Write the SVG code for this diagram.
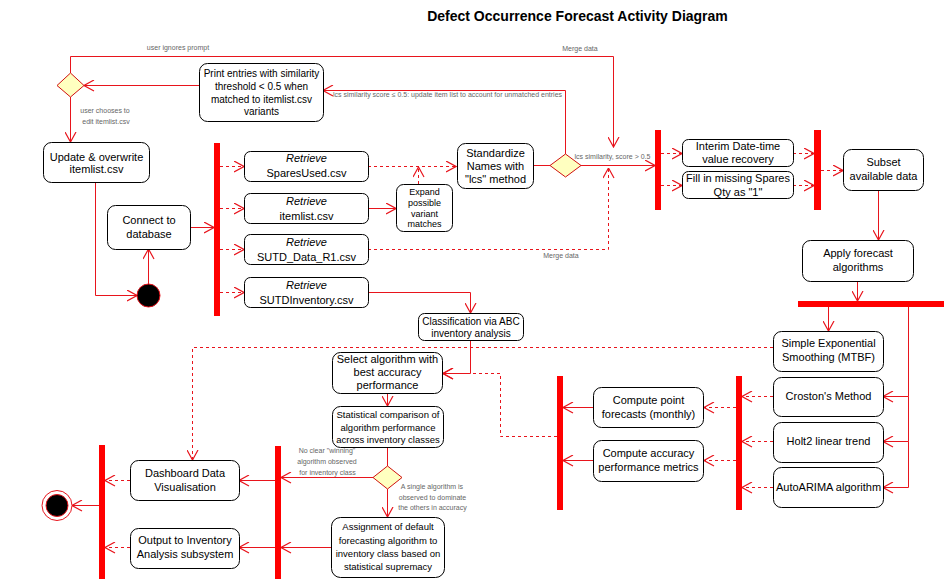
<svg xmlns="http://www.w3.org/2000/svg" width="948" height="583" viewBox="0 0 948 583">
<style>
.n{fill:#fff;stroke:#000;stroke-width:1}
.t{font-family:"Liberation Sans",Arial,sans-serif;font-size:11px;text-anchor:middle;fill:#000}
.s10{font-size:10px}
.s95{font-size:9.5px}
.s9{font-size:9px}
.it{font-style:italic}
.lb{font-family:"Liberation Sans",Arial,sans-serif;font-size:7px;text-anchor:middle;fill:#666}
.e{fill:none;stroke:#e8141c;stroke-width:1;marker-end:url(#a)}
.p{fill:none;stroke:#e8141c;stroke-width:1}
.d{stroke-dasharray:3 3}
.bar{fill:#f00}
.dia{fill:#ffffc0;stroke:#d01010;stroke-width:1}
</style>
<defs>
<marker id="a" viewBox="0 0 11 12" refX="10.5" refY="6" markerWidth="11" markerHeight="12" markerUnits="userSpaceOnUse" orient="auto">
<path d="M0.5,0.5 L10.5,6 L0.5,11.5" fill="none" stroke="#e8141c" stroke-width="1.2" stroke-dasharray="none"/>
</marker>
</defs>
<rect width="948" height="583" fill="#fff"/>
<text x="577.5" y="21" style="font-family:'Liberation Sans',Arial,sans-serif;font-size:14px;font-weight:bold;text-anchor:middle">Defect Occurrence Forecast Activity Diagram</text>

<g id="connectors">
<path class="e" d="M70.5,73 V56.5 H613.5 V147"/>
<text class="lb" x="178" y="49.5">user ignores prompt</text>
<text class="lb" x="580" y="51">Merge data</text>
<path class="e" d="M199,85.5 H84"/>
<path class="e" d="M70.5,97 V142"/>
<text class="lb" x="105" y="112.5">user chooses to</text>
<text class="lb" x="106" y="123.5">edit itemlist.csv</text>
<path class="e" d="M95.5,182 V295.5 H137"/>
<path class="e" d="M148.5,284 V249"/>
<path class="e" d="M190,227.5 H214"/>
<path class="e d" d="M220,166.5 H244"/>
<path class="e d" d="M220,208.5 H244"/>
<path class="e d" d="M220,249.5 H244"/>
<path class="e d" d="M220,292.5 H244"/>
<path class="e d" d="M368,166.5 H456"/>
<path class="e" d="M369,208.5 H396"/>
<path class="e d" d="M418.5,184 V167"/>
<path class="p" d="M533,165.5 H550"/>
<path class="e" d="M565.5,154 V90.5 H323"/>
<text class="lb" x="447.5" y="96.5">lcs similarity score ≤ 0.5: update item list to account for unmatched entries</text>
<path class="e" d="M581,165.5 H655"/>
<text class="lb" x="612.5" y="158.5">lcs similarity, score &gt; 0.5</text>
<path class="e d" d="M368,249.5 H608.5 V168"/>
<text class="lb" x="561" y="257.5">Merge data</text>
<path class="e d" d="M661,153.5 H682"/>
<path class="e d" d="M661,185.5 H682"/>
<path class="e d" d="M793,153.5 H814"/>
<path class="e d" d="M793,185.5 H814"/>
<path class="e d" d="M821,170.5 H843"/>
<path class="e" d="M878.5,190 V240"/>
<path class="e" d="M857.5,281 V301"/>
<path class="e" d="M828.5,307 V331"/>
<path class="e" d="M908.5,307 V396.5 H883"/>
<path class="e" d="M908.5,396.5 V441.5 H883"/>
<path class="e" d="M908.5,441.5 V487.5 H883"/>
<path class="e d" d="M773,396.5 H742"/>
<path class="e d" d="M773,441.5 H742"/>
<path class="e d" d="M773,487.5 H742"/>
<path class="e d" d="M736,407.5 H704"/>
<path class="e d" d="M736,460.5 H704"/>
<path class="e" d="M593,407.5 H563"/>
<path class="e" d="M593,460.5 H563"/>
<path class="e d" d="M557,436.5 H500.5 V373.5 H443"/>
<path class="e" d="M368,292.5 H470.5 V313"/>
<path class="e" d="M470.5,340 V373.5 H443"/>
<path class="e d" d="M773,347.5 H192.5 V460"/>
<path class="e" d="M387.5,393 V406"/>
<path class="p" d="M387.5,447 V466"/>
<path class="e" d="M373,477.5 H281"/>
<text class="lb" x="327" y="452.5">No clear "winning"</text>
<text class="lb" x="327" y="463.5">algorithm observed</text>
<text class="lb" x="327.5" y="474.5">for inventory class</text>
<path class="e" d="M387.5,489 V517"/>
<text class="lb" x="432" y="488.5">A single algorithm is</text>
<text class="lb" x="432.5" y="499.5">observed to dominate</text>
<text class="lb" x="432.5" y="510">the others in accuracy</text>
<path class="e" d="M331,547.5 H281"/>
<path class="e" d="M275,480.5 H239"/>
<path class="e" d="M275,547.5 H239"/>
<path class="e d" d="M130,480.5 H105"/>
<path class="e d" d="M130,547.5 H105"/>
<path class="e" d="M99,505.5 H72"/>
</g>

<g id="decision1"><path class="dia" d="M70.5,73 L84,85.5 L70.5,97 L57,85.5 Z"/></g>
<g id="decision2"><path class="dia" d="M565.5,154 L581,165.5 L565.5,177 L550,165.5 Z"/></g>
<g id="decision3"><path class="dia" d="M387.5,466 L402,477.5 L387.5,489 L373,477.5 Z"/></g>

<g id="print"><rect class="n" x="199.5" y="63.5" width="124" height="58" rx="8"/>
<text class="t s10" x="261.5" y="77">Print entries with similarity</text>
<text class="t s10" x="261.5" y="89.5">threshold &lt; 0.5 when</text>
<text class="t s10" x="261.5" y="102.5">matched to itemlist.csv</text>
<text class="t s10" x="261.5" y="115">variants</text></g>

<g id="update"><rect class="n" x="43.5" y="142.5" width="106" height="40" rx="8"/>
<text class="t" x="96.5" y="160.5">Update &amp; overwrite</text>
<text class="t" x="96.5" y="173">itemlist.csv</text></g>

<g id="initial"><circle cx="148.5" cy="295.5" r="11.5" fill="#000" stroke="#e8141c"/></g>

<g id="connect"><rect class="n" x="107.5" y="205.5" width="83" height="44" rx="8"/>
<text class="t" x="149" y="224">Connect to</text>
<text class="t" x="149" y="238">database</text></g>

<g id="fork1"><rect class="bar" x="214" y="143" width="6" height="173"/></g>

<g id="retrieve1"><rect class="n" x="244.5" y="151.5" width="124" height="30" rx="6"/>
<text class="t it" x="306.5" y="162">Retrieve</text>
<text class="t" x="306.5" y="176.5">SparesUsed.csv</text></g>
<g id="retrieve2"><rect class="n" x="244.5" y="193.5" width="124" height="30" rx="6"/>
<text class="t it" x="306.5" y="205">Retrieve</text>
<text class="t" x="306.5" y="219.5">itemlist.csv</text></g>
<g id="retrieve3"><rect class="n" x="244.5" y="234.5" width="124" height="30" rx="6"/>
<text class="t it" x="306.5" y="246">Retrieve</text>
<text class="t" x="306.5" y="260.5">SUTD_Data_R1.csv</text></g>
<g id="retrieve4"><rect class="n" x="244.5" y="277.5" width="124" height="30" rx="6"/>
<text class="t it" x="306.5" y="289">Retrieve</text>
<text class="t" x="306.5" y="303.5">SUTDInventory.csv</text></g>

<g id="expand"><rect class="n" x="396.5" y="184.5" width="56" height="47" rx="7"/>
<text class="t s9" x="424.5" y="195">Expand</text>
<text class="t s9" x="424.5" y="206">possible</text>
<text class="t s9" x="424.5" y="216.5">variant</text>
<text class="t s9" x="424.5" y="227">matches</text></g>

<g id="standardize"><rect class="n" x="457.5" y="143.5" width="76" height="45" rx="8"/>
<text class="t" x="495.5" y="156.5">Standardize</text>
<text class="t" x="495.5" y="170">Names with</text>
<text class="t" x="495.5" y="182.5">"lcs" method</text></g>

<g id="fork2"><rect class="bar" x="655" y="130" width="6" height="80"/></g>

<g id="interim"><rect class="n" x="682.5" y="139.5" width="111" height="27" rx="6"/>
<text class="t" x="738" y="149.5">Interim Date-time</text>
<text class="t" x="738" y="163">value recovery</text></g>
<g id="fill"><rect class="n" x="682.5" y="171.5" width="111" height="27" rx="6"/>
<text class="t" x="738" y="182">Fill in missing Spares</text>
<text class="t" x="738" y="195.5">Qty as "1"</text></g>

<g id="join1"><rect class="bar" x="814" y="130" width="7" height="80"/></g>

<g id="subset"><rect class="n" x="843.5" y="149.5" width="80" height="41" rx="8"/>
<text class="t" x="883.5" y="166">Subset</text>
<text class="t" x="883.5" y="180">available data</text></g>

<g id="apply"><rect class="n" x="802.5" y="240.5" width="111" height="41" rx="8"/>
<text class="t" x="858" y="257">Apply forecast</text>
<text class="t" x="858" y="270.5">algorithms</text></g>

<g id="fork3"><rect class="bar" x="798" y="301" width="146" height="6"/></g>

<g id="ses"><rect class="n" x="773.5" y="331.5" width="110" height="40" rx="8"/>
<text class="t" x="828.5" y="347">Simple Exponential</text>
<text class="t" x="828.5" y="361">Smoothing (MTBF)</text></g>
<g id="croston"><rect class="n" x="773.5" y="377.5" width="110" height="39" rx="8"/>
<text class="t" x="828.5" y="400">Croston's Method</text></g>
<g id="holt"><rect class="n" x="773.5" y="422.5" width="110" height="40" rx="8"/>
<text class="t" x="828.5" y="445">Holt2 linear trend</text></g>
<g id="arima"><rect class="n" x="773.5" y="467.5" width="110" height="40" rx="8"/>
<text class="t" x="828.5" y="491">AutoARIMA algorithm</text></g>

<g id="fork4"><rect class="bar" x="736" y="376" width="6" height="134"/></g>

<g id="pointfc"><rect class="n" x="593.5" y="387.5" width="110" height="40" rx="8"/>
<text class="t" x="648.5" y="404">Compute point</text>
<text class="t" x="648.5" y="418">forecasts (monthly)</text></g>
<g id="accuracy"><rect class="n" x="593.5" y="440.5" width="110" height="41" rx="8"/>
<text class="t" x="648.5" y="457">Compute accuracy</text>
<text class="t" x="648.5" y="471">performance metrics</text></g>

<g id="join2"><rect class="bar" x="557" y="376" width="6" height="134"/></g>

<g id="classification"><rect class="n" x="418.5" y="313.5" width="105" height="27" rx="6"/>
<text class="t s10" x="471" y="324.5">Classification via ABC</text>
<text class="t s10" x="471" y="336.5">inventory analysis</text></g>

<g id="select"><rect class="n" x="332.5" y="352.5" width="110" height="41" rx="8"/>
<text class="t" x="387.5" y="363">Select algorithm with</text>
<text class="t" x="387.5" y="376">best accuracy</text>
<text class="t" x="387.5" y="389">performance</text></g>

<g id="statistical"><rect class="n" x="332.5" y="406.5" width="111" height="41" rx="8"/>
<text class="t s95" x="388" y="417.5">Statistical comparison of</text>
<text class="t s95" x="388" y="431">algorithm performance</text>
<text class="t s95" x="388" y="443">across inventory classes</text></g>

<g id="assignment"><rect class="n" x="331.5" y="517.5" width="113" height="60" rx="9"/>
<text class="t s95" x="388" y="530">Assignment of default</text>
<text class="t s95" x="388" y="543.5">forecasting algorithm to</text>
<text class="t s95" x="388" y="557">inventory class based on</text>
<text class="t s95" x="388" y="570">statistical supremacy</text></g>

<g id="join3"><rect class="bar" x="275" y="446" width="6" height="133"/></g>

<g id="dashboard"><rect class="n" x="130.5" y="460.5" width="109" height="40" rx="8"/>
<text class="t" x="185" y="477">Dashboard Data</text>
<text class="t" x="185" y="490.5">Visualisation</text></g>
<g id="output"><rect class="n" x="130.5" y="528.5" width="109" height="40" rx="8"/>
<text class="t" x="185" y="544">Output to Inventory</text>
<text class="t" x="185" y="558">Analysis subsystem</text></g>

<g id="join4"><rect class="bar" x="99" y="445" width="6" height="134"/></g>

<g id="final"><circle cx="57" cy="505.5" r="15" fill="#fff" stroke="#e8141c"/><circle cx="57" cy="505.5" r="11" fill="#000" stroke="#e8141c"/></g>
</svg>
